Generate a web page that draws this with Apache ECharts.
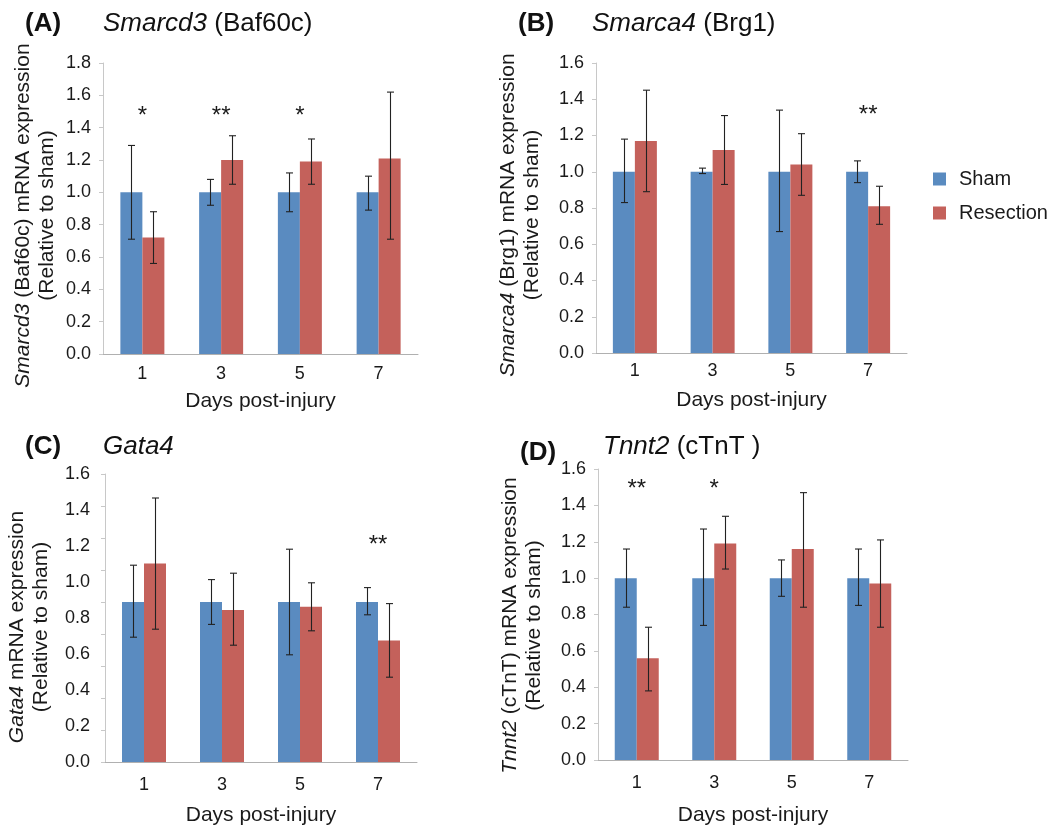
<!DOCTYPE html>
<html>
<head>
<meta charset="utf-8">
<script src="https://cdn.jsdelivr.net/npm/echarts@6/dist/echarts.min.js"></script>
<style>
html,body{margin:0;padding:0;background:#fff;}
#chart{width:1056px;height:830px;}
</style>
</head>
<body>
<div id="chart"></div>
<script>
// ---------- data ----------
const days = ['1', '3', '5', '7'];
const seriesNames = ['Sham', 'Resection'];

// (A) Smarcd3 (Baf60c)
const aSham   = [1.00, 1.00, 1.00, 1.00];
const aShamLo = [0.71, 0.92, 0.88, 0.89];
const aShamHi = [1.29, 1.08, 1.12, 1.10];
const aRes    = [0.72, 1.20, 1.19, 1.21];
const aResLo  = [0.56, 1.05, 1.05, 0.71];
const aResHi  = [0.88, 1.35, 1.33, 1.62];
const aSig    = ['*', '**', '*', ''];

// (B) Smarca4 (Brg1)
const bSham   = [1.00, 1.00, 1.00, 1.00];
const bShamLo = [0.83, 0.99, 0.67, 0.94];
const bShamHi = [1.18, 1.02, 1.34, 1.06];
const bRes    = [1.17, 1.12, 1.04, 0.81];
const bResLo  = [0.89, 0.93, 0.87, 0.71];
const bResHi  = [1.45, 1.31, 1.21, 0.92];
const bSig    = ['', '', '', '**'];

// (C) Gata4
const cSham   = [1.00, 1.00, 1.00, 1.00];
const cShamLo = [0.78, 0.86, 0.67, 0.92];
const cShamHi = [1.23, 1.14, 1.33, 1.09];
const cRes    = [1.24, 0.95, 0.97, 0.76];
const cResLo  = [0.83, 0.73, 0.82, 0.53];
const cResHi  = [1.65, 1.18, 1.12, 0.99];
const cSig    = ['', '', '', '**'];

// (D) Tnnt2 (cTnT)
const dSham   = [1.00, 1.00, 1.00, 1.00];
const dShamLo = [0.84, 0.74, 0.90, 0.85];
const dShamHi = [1.16, 1.27, 1.10, 1.16];
const dRes    = [0.56, 1.19, 1.16, 0.97];
const dResLo  = [0.38, 1.05, 0.84, 0.73];
const dResHi  = [0.73, 1.34, 1.47, 1.21];
const dSig    = ['**', '*', '', ''];

// y-axis tick ranges (tick marks / tick labels)
const yTickMax  = [1.8, 1.6, 1.8, 1.6];
const yLabelMax = [1.8, 1.6, 1.6, 1.6];
const yStep = 0.2;

const panelLetters = ['(A)', '(B)', '(C)', '(D)'];
const panelTitles = ['{i|Smarcd3} (Baf60c)', '{i|Smarca4} (Brg1)', '{i|Gata4}', '{i|Tnnt2} (cTnT )'];
const yNames = [
  '{i|Smarcd3} (Baf60c) mRNA expression\n(Relative to sham)',
  '{i|Smarca4} (Brg1) mRNA expression\n(Relative to sham)',
  '{i|Gata4} mRNA expression\n(Relative to sham)',
  '{i|Tnnt2} (cTnT) mRNA expression\n(Relative to sham)'
];
const xName = 'Days post-injury';

// ---------- layout / style ----------
const FONT = '"Liberation Sans", Arial, Helvetica, sans-serif';
const colSham = '#5a8bc0';
const colRes = '#c4615b';
const BARW = 22;
const grids = [
  {left: 103, top: 63, width: 315, height: 291},
  {left: 596, top: 63, width: 311, height: 290},
  {left: 105, top: 474, width: 312, height: 288},
  {left: 598, top: 469, width: 310, height: 291}
];
const starLevel = [1.47, 1.31, 1.355, 1.49];
const letterPos = [[25, 11], [518, 11], [25, 434], [520, 440]];
const titlePos = [[103, 11], [592, 11], [103, 434], [603, 434]];
const xLabelMargin = [11, 9, 14, 14];
const xNameGap = [37, 37, 43, 45];
const yNameGap = [44, 52, 52, 52];
const yNameShift = [14, 14, 18, 22];

const panels = [
  {sham: aSham, shamLo: aShamLo, shamHi: aShamHi, res: aRes, resLo: aResLo, resHi: aResHi, sig: aSig},
  {sham: bSham, shamLo: bShamLo, shamHi: bShamHi, res: bRes, resLo: bResLo, resHi: bResHi, sig: bSig},
  {sham: cSham, shamLo: cShamLo, shamHi: cShamHi, res: cRes, resLo: cResLo, resHi: cResHi, sig: cSig},
  {sham: dSham, shamLo: dShamLo, shamHi: dShamHi, res: dRes, resLo: dResLo, resHi: dResHi, sig: dSig}
];

const title = [];
const xAxis = [];
const yAxis = [];
const series = [];

function errSeries(name, xi, yi, lo, hi, offset) {
  return {
    type: 'custom', name: name + ' err', xAxisIndex: xi, yAxisIndex: yi, z: 5,
    silent: true,
    data: lo.map((v, i) => [i, v, hi[i]]),
    encode: {x: 0, y: [1, 2]},
    renderItem: function (params, api) {
      const pLo = api.coord([api.value(0), api.value(1)]);
      const pHi = api.coord([api.value(0), api.value(2)]);
      const x = Math.round(pLo[0] + offset) + 0.5;
      const c = 3.5;
      const st = {stroke: '#222222', lineWidth: 1.1};
      return {type: 'group', children: [
        {type: 'line', shape: {x1: x, y1: pLo[1], x2: x, y2: pHi[1]}, style: st},
        {type: 'line', shape: {x1: x - c, y1: pLo[1], x2: x + c, y2: pLo[1]}, style: st},
        {type: 'line', shape: {x1: x - c, y1: pHi[1], x2: x + c, y2: pHi[1]}, style: st}
      ]};
    }
  };
}

let yIdx = 0;
panels.forEach((p, k) => {
  title.push({text: panelLetters[k], left: letterPos[k][0], top: letterPos[k][1], padding: 0,
    textStyle: {fontFamily: FONT, fontSize: 26, fontWeight: 'bold', color: '#111'}});
  title.push({text: panelTitles[k], left: titlePos[k][0], top: titlePos[k][1], padding: 0,
    textStyle: {fontFamily: FONT, fontSize: 26, fontWeight: 'normal', color: '#111',
      rich: {i: {fontFamily: FONT, fontSize: 26, fontStyle: 'italic', color: '#111'}}}});

  xAxis.push({
    type: 'category', gridIndex: k, data: days,
    axisLine: {lineStyle: {color: '#b0b0b0', width: 1}},
    axisTick: {show: false},
    axisLabel: {fontFamily: FONT, fontSize: 18, color: '#1a1a1a', margin: xLabelMargin[k]},
    name: xName, nameLocation: 'middle', nameGap: xNameGap[k],
    nameTextStyle: {fontFamily: FONT, fontSize: 21, color: '#1a1a1a'}
  });

  const twoAxes = yTickMax[k] !== yLabelMax[k];
  const mainY = yIdx;
  yAxis.push({
    type: 'value', gridIndex: k, min: 0, max: yTickMax[k], interval: yStep,
    axisLine: {show: true, lineStyle: {color: '#c8c8c8', width: 1}},
    axisTick: {show: true, length: 4, lineStyle: {color: '#c8c8c8'}},
    splitLine: {show: false},
    axisLabel: {show: !twoAxes, fontFamily: FONT, fontSize: 18, color: '#1a1a1a', margin: 12,
      formatter: v => v.toFixed(1)},
    name: yNames[k], nameLocation: 'middle', nameGap: yNameGap[k], nameRotate: 90,
    nameTextStyle: {fontFamily: FONT, fontSize: 21, color: '#1a1a1a', lineHeight: 24,
      padding: [0, yNameShift[k], 0, 0],
      rich: {i: {fontFamily: FONT, fontSize: 21, fontStyle: 'italic', color: '#1a1a1a', lineHeight: 24}}}
  });
  yIdx++;
  if (twoAxes) {
    yAxis.push({
      type: 'value', gridIndex: k, min: 0, max: yLabelMax[k], interval: yStep, position: 'left',
      axisLine: {show: false}, axisTick: {show: false}, splitLine: {show: false},
      axisLabel: {show: true, fontFamily: FONT, fontSize: 18, color: '#1a1a1a', margin: 15,
        formatter: v => v.toFixed(1)}
    });
    yIdx++;
  }

  series.push({type: 'bar', name: seriesNames[0], xAxisIndex: k, yAxisIndex: mainY, data: p.sham,
    barWidth: BARW, barGap: '0%', itemStyle: {color: colSham}});
  series.push({type: 'bar', name: seriesNames[1], xAxisIndex: k, yAxisIndex: mainY, data: p.res,
    barWidth: BARW, barGap: '0%', itemStyle: {color: colRes}});
  series.push(errSeries('Sham', k, mainY, p.shamLo, p.shamHi, -BARW / 2));
  series.push(errSeries('Resection', k, mainY, p.resLo, p.resHi, BARW / 2));

  const sig = p.sig;
  const lvl = starLevel[k];
  series.push({
    type: 'custom', name: 'sig', xAxisIndex: k, yAxisIndex: mainY, z: 6, silent: true,
    data: sig.map((s, i) => [i, lvl]),
    encode: {x: 0, y: 1},
    renderItem: function (params, api) {
      const t = sig[params.dataIndex];
      if (!t) return null;
      const pt = api.coord([api.value(0), api.value(1)]);
      return {type: 'text', x: pt[0], y: pt[1],
        style: {text: t, font: '24px ' + FONT, fill: '#1a1a1a', align: 'center', verticalAlign: 'middle'}};
    }
  });
});

const option = {
  animation: false,
  backgroundColor: '#ffffff',
  title: title,
  legend: {
    data: seriesNames, orient: 'vertical', left: 928, top: 164,
    icon: 'rect', itemWidth: 13, itemHeight: 13, itemGap: 14,
    textStyle: {fontFamily: FONT, fontSize: 20, color: '#1a1a1a', padding: [0, 0, 0, 8]}
  },
  grid: grids,
  xAxis: xAxis,
  yAxis: yAxis,
  series: series
};

const chart = echarts.init(document.getElementById('chart'), null, {renderer: 'canvas'});
chart.setOption(option);
</script>
</body>
</html>
